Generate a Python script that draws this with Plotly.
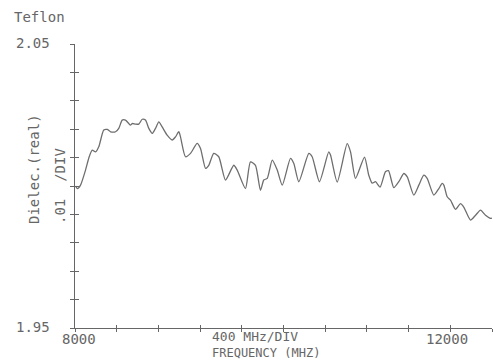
import plotly.graph_objects as go

# ---- data ----
freq_mhz = [8005, 8024, 8053, 8101, 8132, 8165, 8197, 8228, 8276, 8309,
            8341, 8389, 8420, 8453, 8484, 8516, 8532, 8549, 8580, 8612,
            8645, 8676, 8708, 8741, 8772, 8804, 8836, 8884, 8932, 8964,
            8996, 9012, 9060, 9108, 9172, 9204, 9252, 9283, 9331, 9379,
            9444, 9523, 9556, 9635, 9683, 9731, 9779, 9811, 9844, 9892,
            9940, 9988, 10067, 10099, 10147, 10243, 10275, 10345, 10434, 10451,
            10515, 10611, 10643, 10691, 10777, 10818, 10851, 10882, 10926, 10978,
            11007, 11058, 11106, 11154, 11187, 11250, 11298, 11346, 11378, 11442,
            11490, 11522, 11538, 11570, 11602, 11650, 11698, 11729, 11794, 11842,
            11890, 11938, 11986, 12000]
dielec_real = [2.0000, 1.9991, 2.0003, 2.0056, 2.0098, 2.0126, 2.0120, 2.0138, 2.0197, 2.0199,
               2.0191, 2.0191, 2.0203, 2.0232, 2.0232, 2.0220, 2.0214, 2.0220, 2.0218, 2.0218,
               2.0235, 2.0232, 2.0203, 2.0185, 2.0203, 2.0226, 2.0208, 2.0179, 2.0162, 2.0173,
               2.0191, 2.0173, 2.0103, 2.0115, 2.0150, 2.0132, 2.0062, 2.0073, 2.0115, 2.0103,
               2.0021, 2.0073, 2.0056, 1.9991, 2.0085, 2.0073, 1.9985, 2.0021, 2.0027, 2.0091,
               2.0056, 2.0003, 2.0097, 2.0079, 2.0015, 2.0115, 2.0103, 2.0015, 2.0120, 2.0109,
               2.0014, 2.0149, 2.0120, 2.0027, 2.0102, 2.0038, 2.0010, 2.0015, 1.9996, 2.0050,
               2.0054, 1.9994, 2.0015, 2.0044, 2.0032, 1.9968, 2.0003, 2.0038, 2.0027, 1.9968,
               1.9991, 2.0009, 2.0003, 1.9962, 1.9950, 1.9918, 1.9938, 1.9926, 1.9880, 1.9897,
               1.9915, 1.9897, 1.9886, 1.9887]

x_range = [8000, 12000]
y_range = [1.95, 2.05]
x_tick_step = 400
y_tick_step = 0.01
y_tick_labels = ["2.05", "1.95"]
x_tick_labels = ["8000", "12000"]
title_text = "Teflon"
y_title_lines = ["Dielec.(real)", ".01  /DIV"]
x_title_lines = ["400 MHz/DIV", "FREQUENCY (MHZ)"]

# ---- layout geometry ----
W, H = 493, 360
ML, MR, MT, MB = 75, 1, 44, 32
PW, PH = W - ML - MR, H - MT - MB
INK = "#666666"
FONT = "DejaVu Sans Mono"


def px(xp):
    return (xp - ML) / PW


def py(yp):
    return (H - MB - yp) / PH


fig = go.Figure()
fig.add_trace(go.Scatter(
    x=freq_mhz, y=dielec_real, mode="lines",
    line=dict(color="#6e6e6e", width=1.3, shape="spline", smoothing=0.6),
    showlegend=False, hoverinfo="skip"))
# helper trace so the overlaying tick axes get drawn
fig.add_trace(go.Scatter(x=[x_range[0]], y=[y_range[0]], xaxis="x2", yaxis="y2",
                         mode="markers", marker=dict(size=0.1, opacity=0),
                         showlegend=False, hoverinfo="skip"))

common_x = dict(range=x_range, tick0=x_range[0], dtick=x_tick_step, ticklen=3,
                tickwidth=1, tickcolor=INK, showgrid=False, zeroline=False,
                showticklabels=False, fixedrange=True)
common_y = dict(range=y_range, tick0=y_range[0], dtick=y_tick_step, ticklen=4,
                tickwidth=1, tickcolor=INK, showgrid=False, zeroline=False,
                showticklabels=False, fixedrange=True)

fig.update_layout(
    width=W, height=H,
    margin=dict(l=ML, r=MR, t=MT, b=MB, pad=0),
    paper_bgcolor="white", plot_bgcolor="white",
    xaxis=dict(**common_x, ticks="outside", showline=True, linecolor=INK, linewidth=1),
    yaxis=dict(**common_y, ticks="outside", showline=True, linecolor=INK, linewidth=1),
    xaxis2=dict(**common_x, ticks="inside", overlaying="x", anchor="y2", side="bottom",
                showline=False),
    yaxis2=dict(**common_y, ticks="inside", overlaying="y", anchor="x2", side="left",
                showline=False),
)

font = dict(family=FONT, size=14, color=INK)
mid = dict(family=FONT, size=13, color=INK)
small = dict(family=FONT, size=12, color=INK)
ann = []
ann.append(dict(text=title_text, x=px(12), y=py(17), xanchor="left", yanchor="middle", font=font))
ann.append(dict(text=y_tick_labels[0], x=px(52), y=py(43), xanchor="right", yanchor="middle", font=font))
ann.append(dict(text=y_tick_labels[1], x=px(52), y=py(327), xanchor="right", yanchor="middle", font=font))
ann.append(dict(text=x_tick_labels[0], x=px(79), y=py(339), xanchor="center", yanchor="middle", font=font))
ann.append(dict(text=x_tick_labels[1], x=px(447), y=py(339), xanchor="center", yanchor="middle", font=font))
ann.append(dict(text=x_title_lines[0], x=px(211), y=py(336.5), xanchor="left", yanchor="middle",
                font=mid, borderpad=0))
ann.append(dict(text=x_title_lines[1], x=px(211), y=py(352.5), xanchor="left", yanchor="middle",
                font=small, borderpad=0))
ann.append(dict(text=y_title_lines[0], x=px(34), y=py(169), xanchor="center", yanchor="middle",
                textangle=-90, font=font))
ann.append(dict(text=y_title_lines[1], x=px(60), y=py(186), xanchor="center", yanchor="middle",
                textangle=-90, font=font))
for a in ann:
    a.update(xref="paper", yref="paper", showarrow=False)
fig.update_layout(annotations=ann)

fig.write_html("out.html", config={"displayModeBar": False},
               post_script="document.body.style.margin='0';document.body.style.overflow='hidden';")
